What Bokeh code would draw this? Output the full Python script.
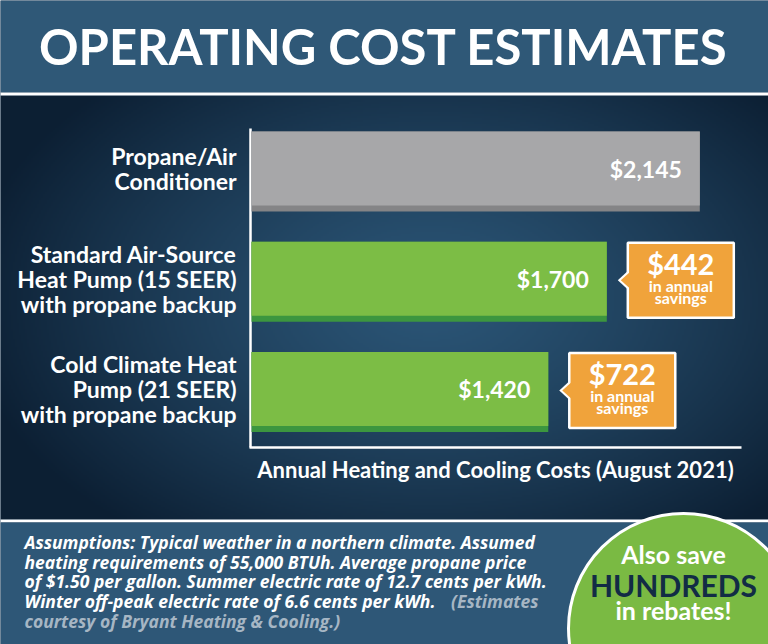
import numpy as np
from bokeh.plotting import figure
from bokeh.models import Range1d
from bokeh.core.properties import value
from bokeh.embed import file_html
from bokeh.resources import INLINE

# ---------------- data ----------------
title_text = "OPERATING COST ESTIMATES"
categories = [
    "Propane/Air\nConditioner",
    "Standard Air-Source\nHeat Pump (15 SEER)\nwith propane backup",
    "Cold Climate Heat\nPump (21 SEER)\nwith propane backup",
]
costs = [2145, 1700, 1420]
cost_labels = ["$2,145", "$1,700", "$1,420"]
savings_rows = [1, 2]
savings = [442, 722]
savings_labels = ["$442", "$722"]
x_title = "Annual Heating and Cooling Costs (August 2021)"
note_lines = [
    "Assumptions: Typical weather in a northern climate. Assumed",
    "heating requirements of 55,000 BTUh. Average propane price",
    "of $1.50 per gallon. Summer electric rate of 12.7 cents per kWh.",
    "Winter off-peak electric rate of 6.6 cents per kWh.",
]
note_grey = ["(Estimates", "courtesy of Bryant Heating & Cooling.)"]
badge_lines = ["Also save", "HUNDREDS", "in rebates!"]

# ---------------- layout (reference pixel geometry) ----------------
W, H = 768, 644
K = 0.209            # pixels per dollar
X0 = 251             # pixel of $0
ROW0, ROWH = 171, 110.25
DPP = 1.0 / K
FONT = "Lato"
NOTE_FONT = "Open Sans"

rows = list(range(len(categories)))

p = figure(width=W, height=H, output_backend="svg", toolbar_location=None,
           x_range=Range1d((0 - X0) / K, (W - X0) / K),
           y_range=Range1d((H - ROW0) / ROWH, (0 - ROW0) / ROWH),
           x_axis_location=None, y_axis_location=None, min_border=0,
           outline_line_color=None, background_fill_color="#183652",
           border_fill_color="#183652")
p.grid.visible = False
p.extra_x_ranges = {"px": Range1d(0, W)}
p.extra_y_ranges = {"px": Range1d(H, 0)}
PX = dict(x_range_name="px", y_range_name="px")

# background gradient for the middle band
band_top, band_bot = 95, 519
nx, ny = W // 2, (band_bot - band_top) // 2
gx = np.linspace(0, W, nx)[None, :]
gy = np.linspace(band_top, band_bot, ny)[:, None]
t = np.sqrt(((gx - 430) / 470.0) ** 2 + ((gy - 300) / 300.0) ** 2)
t = np.clip(t, 0, 1) ** 1.3
c_in = np.array([0x2b, 0x55, 0x76], float)
c_out = np.array([0x0c, 0x1f, 0x33], float)
rgb = c_in[None, None, :] * (1 - t[..., None]) + c_out[None, None, :] * t[..., None]
img = np.empty((ny, nx), dtype=np.uint32)
view = img.view(dtype=np.uint8).reshape((ny, nx, 4))
view[..., 0] = rgb[..., 0]
view[..., 1] = rgb[..., 1]
view[..., 2] = rgb[..., 2]
view[..., 3] = 255
p.image_rgba(image=[img], x=0, y=band_top, dw=W, dh=band_bot - band_top, **PX)

# header and footer bands
p.quad(left=[0], right=[W], top=[0], bottom=[92], fill_color="#2f5877", line_color=None, **PX)
p.quad(left=[0], right=[W], top=[92], bottom=[95], fill_color="white", line_color=None, **PX)
p.quad(left=[0], right=[W], top=[519], bottom=[522], fill_color="white", line_color=None, **PX)
p.quad(left=[0], right=[W], top=[522], bottom=[H], fill_color="#2e5777", line_color=None, **PX)

p.text(x=[383], y=[45], text=[title_text], text_color="white", text_font=value(FONT),
       text_font_style="bold", text_font_size="49px", text_align="center",
       text_baseline="middle", **PX)

# axes lines
p.segment(x0=[250, 249], y0=[128, 447], x1=[250, 741], y1=[447, 447],
          line_color="white", line_width=2.5, **PX)
p.text(x=[495], y=[469], text=[x_title], text_color="white", text_font=value(FONT),
       text_font_style="bold", text_font_size="22px", text_align="center",
       text_baseline="middle", **PX)

# bars
face_y = [r - 3 / ROWH for r in rows]
shadow_cols = ["#848486", "#3c963f", "#3c963f"]
face_cols = ["#a7a7a9", "#7cbd45", "#7cbd45"]
p.hbar(y=rows, left=0, right=costs, height=80 / ROWH, fill_color=shadow_cols, line_color=None)
p.hbar(y=face_y, left=0, right=costs, height=74 / ROWH, fill_color=face_cols, line_color=None)
p.text(x=costs, y=face_y, text=cost_labels, x_offset=-18, text_color="white",
       text_font=value(FONT), text_font_style="bold", text_font_size="23px",
       text_align="right", text_baseline="middle")

# category labels
p.text(x=[0] * len(rows), y=face_y, text=categories, x_offset=-15, text_color="white",
       text_font=value(FONT), text_font_style="bold", text_font_size="23px",
       text_align="right", text_baseline="middle", text_line_height=0.9)

# savings callouts
s_cost = [costs[r] for r in savings_rows]
s_y = [r - 1.5 / ROWH for r in savings_rows]
p.patches(xs=[[c + 11 * DPP, c + 24 * DPP, c + 24 * DPP] for c in s_cost],
          ys=[[y, y - 12 / ROWH, y + 12 / ROWH] for y in s_y],
          fill_color="white", line_color=None)
p.rect(x=[c + 74 * DPP for c in s_cost], y=s_y, width=106, height=75,
       width_units="screen", height_units="screen", fill_color="#f0a33b",
       line_color="white", line_width=2.5)
p.patches(xs=[[c + 14 * DPP, c + 24 * DPP, c + 24 * DPP] for c in s_cost],
          ys=[[y, y - 9 / ROWH, y + 9 / ROWH] for y in s_y],
          fill_color="#f0a33b", line_color=None)
p.text(x=s_cost, y=s_y, text=savings_labels, x_offset=74, y_offset=-17,
       text_color="white", text_font=value(FONT), text_font_style="bold",
       text_font_size="29px", text_align="center", text_baseline="middle")
p.text(x=s_cost, y=s_y, text=["in annual"] * len(s_cost), x_offset=74, y_offset=5,
       text_color="white", text_font=value(FONT), text_font_style="bold",
       text_font_size="16px", text_align="center", text_baseline="middle")
p.text(x=s_cost, y=s_y, text=["savings"] * len(s_cost), x_offset=74, y_offset=17,
       text_color="white", text_font=value(FONT), text_font_style="bold",
       text_font_size="16px", text_align="center", text_baseline="middle")

# footnote
note_y = [541, 561, 580, 600]
p.text(x=[24] * len(note_lines), y=note_y, text=note_lines, text_color="white",
       text_font=value(NOTE_FONT), text_font_style="bold italic", text_font_size="17.5px",
       text_align="left", text_baseline="middle", **PX)
p.text(x=[538, 24], y=[600, 620], text=note_grey, text_color="#a6b6c4",
       text_font=value(NOTE_FONT), text_font_style="bold italic", text_font_size="17.5px",
       text_align=["right", "left"], text_baseline="middle", **PX)

# badge
p.circle(x=[683], y=[628], radius=115, fill_color="#7aba43", line_color="white",
         line_width=3, **PX)
p.text(x=[673] * 3, y=[553, 584, 609], text=badge_lines,
       text_color=["white", "#122c45", "white"], text_font=value(FONT),
       text_font_style="bold", text_font_size=["25px", "30px", "25px"],
       text_align="center", text_baseline="middle", **PX)

open("out.html", "w").write(file_html(p, INLINE))
